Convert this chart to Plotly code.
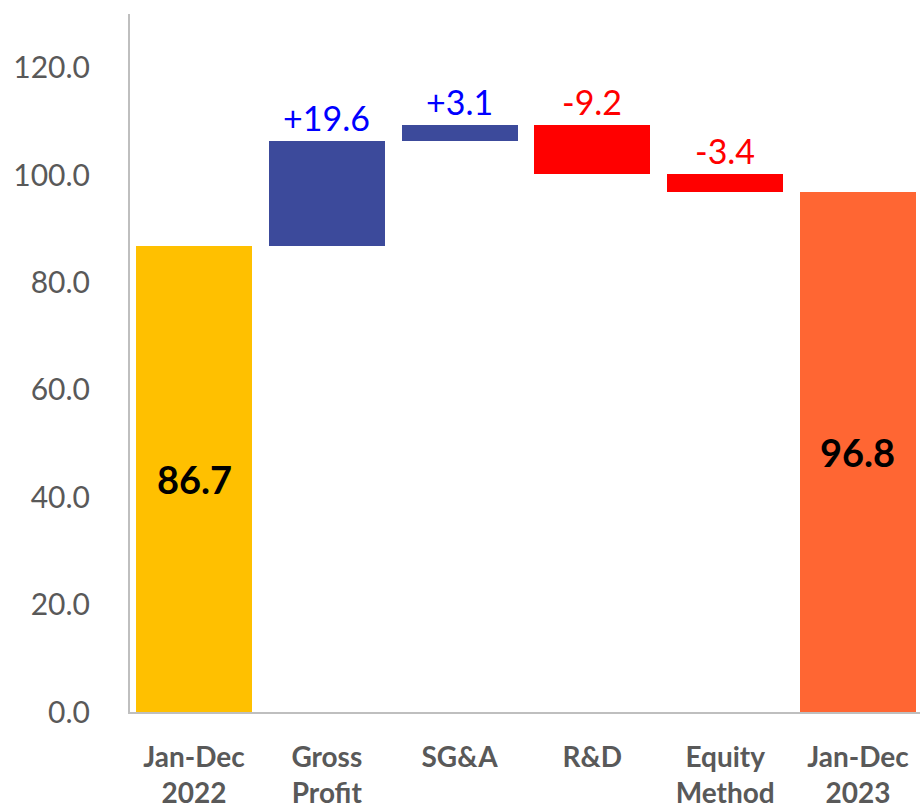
import plotly.graph_objects as go

categories = ["Jan-Dec<br>2022", "Gross<br>Profit", "SG&A", "R&D", "Equity<br>Method", "Jan-Dec<br>2023"]
start_value = 86.7
deltas = [19.6, 3.1, -9.2, -3.4]
end_value = 96.8
delta_labels = ["+19.6", "+3.1", "-9.2", "-3.4"]
tick_values = [0, 20, 40, 60, 80, 100, 120]

colors = ["#FFC000", "#3C4A9B", "#3C4A9B", "#FF0000", "#FF0000", "#FF6633"]
label_colors = ["#0000FF", "#0000FF", "#FF0000", "#FF0000"]

# compute floating bars
bases = [0]
heights = [start_value]
running = start_value
tops = []
for d in deltas:
    if d >= 0:
        bases.append(running)
        heights.append(d)
    else:
        bases.append(running + d)
        heights.append(-d)
    running += d
    tops.append(max(running, running - d))
bases.append(0)
heights.append(end_value)

x_idx = list(range(len(categories)))

fig = go.Figure()
fig.add_trace(go.Bar(
    x=x_idx, y=heights, base=bases,
    marker=dict(color=colors, line=dict(width=0)),
    width=0.873,
    hoverinfo="skip",
))

font_family = "Lato, 'Open Sans', sans-serif"

# total labels inside
for i, v in [(0, start_value), (5, end_value)]:
    fig.add_annotation(x=i, y=v / 2, text=f"<b>{v:.1f}</b>", showarrow=False,
                       font=dict(family=font_family, size=38, color="#000000"),
                       xanchor="center", yanchor="middle")

for k, (lab, top) in enumerate(zip(delta_labels, tops)):
    fig.add_annotation(x=k + 1, y=top, text=lab, showarrow=False,
                       font=dict(family=font_family, size=34, color=label_colors[k]),
                       xanchor="center", yanchor="bottom", yshift=1)

fig.update_layout(
    width=920, height=808,
    margin=dict(l=130, r=0, t=14, b=96),
    paper_bgcolor="white", plot_bgcolor="white",
    showlegend=False,
    font=dict(family=font_family, color="#595959"),
    bargap=0,
)
fig.update_xaxes(
    range=[-0.482, 5.467],
    tickmode="array", tickvals=x_idx,
    ticktext=[f"<b>{c}</b>" for c in categories],
    tickfont=dict(family=font_family, size=28, color="#595959"),
    showline=True, linecolor="#BFBFBF", linewidth=2,
    showgrid=False, zeroline=False, ticks="",
    ticklabelstandoff=19, automargin=False,
)
fig.update_yaxes(
    range=[0, 130],
    tickmode="array", tickvals=tick_values,
    ticktext=[f"{t:.1f}" for t in tick_values],
    tickfont=dict(family=font_family, size=30, color="#595959"),
    showline=True, linecolor="#BFBFBF", linewidth=2,
    showgrid=False, zeroline=False, ticks="",
    ticklabelstandoff=32, automargin=False,
)

fig.write_html("out.html", config={"displayModeBar": False},
               post_script="document.body.style.margin='0';document.body.style.overflow='hidden';")
